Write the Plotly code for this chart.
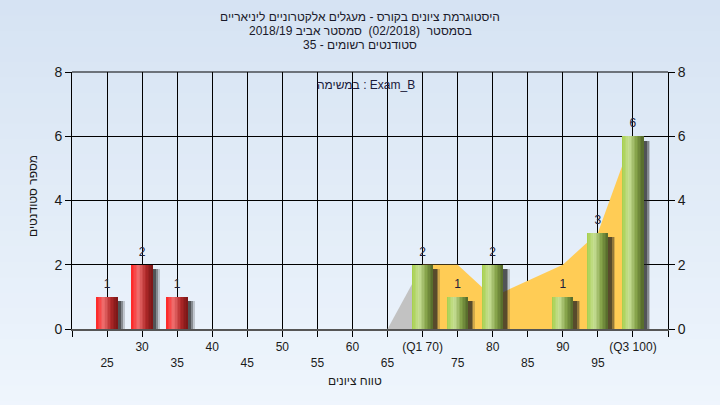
import plotly.graph_objects as go

# ---------------- data ----------------
grades = [25, 30, 35, 40, 45, 50, 55, 60, 65, 70, 75, 80, 85, 90, 95, 100]
counts = [1, 2, 1, 0, 0, 0, 0, 0, 0, 2, 1, 2, 0, 1, 3, 6]
tick_labels = ["25", "30", "35", "40", "45", "50", "55", "60", "65",
               "(Q1 70)", "75", "80", "85", "90", "95", "(Q3 100)"]
fail_limit = 55

trend_x = [70, 75, 80, 85, 90, 95, 100]
trend_y = [2, 2, 1, 1.5, 2, 3, 6]
lead_x = [65, 70]
lead_y = [0, 2]

title_lines = ["היסטוגרמת ציונים בקורס - מעגלים אלקטרוניים ליניאריים",
               "בסמסטר  (02/2018)  סמסטר אביב 2018/19",
               "סטודנטים רשומים - 35"]
task_label = "במשימה : Exam_B"
x_title = "טווח ציונים"
y_title = "מספר סטודנטים"
y_ticks = [0, 2, 4, 6, 8]

# ---------------- styling helpers ----------------
FONT = "Liberation Sans, DejaVu Sans, Arial, sans-serif"
BAR_W = 3.0
N_STRIPES = 14
ML, MR, MT, MB = 72, 52, 72, 76
W, H = 720, 405
PW, PH = W - ML - MR, H - MT - MB


def px_to_paper_y(py):
    return (H - MB - py) / PH


def px_to_paper_x(px):
    return (px - ML) / PW


def lerp(c1, c2, t):
    return tuple(round(a + (b - a) * t) for a, b in zip(c1, c2))


def profile(stops, t):
    for (t0, c0), (t1, c1) in zip(stops, stops[1:]):
        if t0 <= t <= t1:
            return lerp(c0, c1, (t - t0) / (t1 - t0) if t1 > t0 else 0)
    return stops[-1][1]


red_stops = [(0.0, (255, 35, 35)), (0.35, (238, 112, 112)), (0.7, (175, 40, 40)), (1.0, (120, 22, 22))]
green_stops = [(0.0, (164, 206, 72)), (0.35, (200, 224, 150)), (0.7, (130, 160, 70)), (1.0, (84, 104, 42))]

fail_x = [g for g, c in zip(grades, counts) if g < fail_limit and c > 0]
fail_y = [c for g, c in zip(grades, counts) if g < fail_limit and c > 0]
pass_x = [g for g, c in zip(grades, counts) if g >= fail_limit and c > 0]
pass_y = [c for g, c in zip(grades, counts) if g >= fail_limit and c > 0]

fig = go.Figure()

# trend area on the base axes (drawn beneath the overlaying bar subplot)
fig.add_trace(go.Scatter(x=lead_x, y=lead_y, mode="lines", fill="tozeroy",
                         line=dict(width=0, color="#C2C2C2"), fillcolor="#C2C2C2",
                         hoverinfo="skip", showlegend=False))
fig.add_trace(go.Scatter(x=trend_x, y=trend_y, mode="lines", fill="tozeroy",
                         line=dict(width=0, color="#FFCC55"), fillcolor="#FFCC55",
                         hoverinfo="skip", showlegend=False))

# shadows
all_x = fail_x + pass_x
all_y = fail_y + pass_y
for dx, alpha in [(1.0, 0.2), (0.75, 0.35), (0.5, 0.5)]:
    fig.add_trace(go.Bar(x=all_x, y=[v - 0.07 for v in all_y], base=[-0.07] * len(all_y),
                         offset=-BAR_W / 2 + dx, width=BAR_W,
                         marker=dict(color=f"rgba(30,30,30,{alpha})", line=dict(width=0)),
                         yaxis="y2", hoverinfo="skip", showlegend=False))

# cylindrical bars as stripes
sw = BAR_W / N_STRIPES
for xs, ys, stops in [(fail_x, fail_y, red_stops), (pass_x, pass_y, green_stops)]:
    for i in range(N_STRIPES):
        t = (i + 0.5) / N_STRIPES
        r, g, b = profile(stops, t)
        fig.add_trace(go.Bar(x=xs, y=ys, offset=-BAR_W / 2 + i * sw, width=sw * 1.04,
                             marker=dict(color=f"rgb({r},{g},{b})", line=dict(width=0)),
                             yaxis="y2", hoverinfo="skip", showlegend=False))

# value labels
fig.add_trace(go.Scatter(x=all_x, y=all_y, mode="markers+text", text=[str(v) for v in all_y],
                         textposition="top center",
                         marker=dict(size=8, color="rgba(0,0,0,0)"),
                         textfont=dict(family=FONT, size=12, color="#20203a"),
                         yaxis="y2", hoverinfo="skip", showlegend=False))

tick_vals = [20] + grades + [105]
tick_text = [""] + [("" if i % 2 == 1 else "<br>") + lbl for i, lbl in enumerate(tick_labels)] + [""]

# background gradient bands
shapes = []
n_bands = 30
top_c, bot_c = (212, 226, 242), (240, 246, 253)
for k in range(n_bands):
    r, g, b = lerp(top_c, bot_c, k / (n_bands - 1))
    shapes.append(dict(type="rect", xref="paper", yref="paper", layer="below",
                       x0=-0.2, x1=1.2, y0=1.4 - (k + 1) * 1.8 / n_bands - 0.005,
                       y1=1.4 - k * 1.8 / n_bands,
                       fillcolor=f"rgb({r},{g},{b})", line=dict(width=0)))
shapes.append(dict(type="line", xref="paper", yref="paper", x0=0, x1=1, y0=1, y1=1,
                   line=dict(color="#000000", width=1)))

annotations = []
for line, py in zip(title_lines, [17, 31, 45]):
    annotations.append(dict(text=line, xref="paper", yref="paper", x=px_to_paper_x(360),
                            y=px_to_paper_y(py), xanchor="center", yanchor="middle",
                            showarrow=False, font=dict(family=FONT, size=12, color="#1a1a2a")))
annotations.append(dict(text=task_label, xref="paper", yref="paper", x=px_to_paper_x(366),
                        y=px_to_paper_y(85), xanchor="center", yanchor="middle", showarrow=False,
                        font=dict(family=FONT, size=12, color="#1a1a3a")))
annotations.append(dict(text=x_title, xref="paper", yref="paper", x=px_to_paper_x(355),
                        y=px_to_paper_y(381), xanchor="center", yanchor="middle", showarrow=False,
                        font=dict(family=FONT, size=12, color="#1a1a1a")))
annotations.append(dict(text=y_title, xref="paper", yref="paper", x=px_to_paper_x(33),
                        y=px_to_paper_y(196), xanchor="center", yanchor="middle", showarrow=False,
                        textangle=-90, font=dict(family=FONT, size=12, color="#1a1a1a")))

fig.update_layout(
    width=W, height=H,
    margin=dict(l=ML, r=MR, t=MT, b=MB, autoexpand=False),
    paper_bgcolor="rgb(226,236,248)",
    plot_bgcolor="#B4B4B4",
    barmode="overlay",
    bargap=0,
    font=dict(family=FONT, size=12, color="#1a1a1a"),
    shapes=shapes,
    annotations=annotations,
    xaxis=dict(range=[20, 105], tickmode="array", tickvals=tick_vals, ticktext=tick_text,
               showgrid=True, gridcolor="#000000", gridwidth=1,
               ticks="outside", ticklen=6, tickcolor="#000000",
               showline=True, linecolor="#555555", linewidth=2, mirror=False,
               tickfont=dict(family=FONT, size=12, color="#1a1a1a"),
               zeroline=False, fixedrange=True, automargin=False),
    yaxis=dict(range=[0, 8], tickvals=y_ticks, showgrid=True, gridcolor="#000000", gridwidth=1,
               ticks="outside", ticklen=6, tickcolor="#000000",
               showline=True, linecolor="#000000", linewidth=1, mirror=False,
               tickfont=dict(family=FONT, size=14, color="#1a1a1a"),
               zeroline=False, automargin=False),
    yaxis2=dict(range=[0, 8], tickvals=y_ticks, overlaying="y", side="right",
                showgrid=False, ticks="outside", ticklen=6, tickcolor="#000000",
                showline=True, linecolor="#000000", linewidth=1,
                tickfont=dict(family=FONT, size=14, color="#1a1a1a"), zeroline=False,
                automargin=False),
)

fig.write_html("out.html", config={"displayModeBar": False},
               post_script="document.body.style.margin='0';document.body.style.overflow='hidden';")
